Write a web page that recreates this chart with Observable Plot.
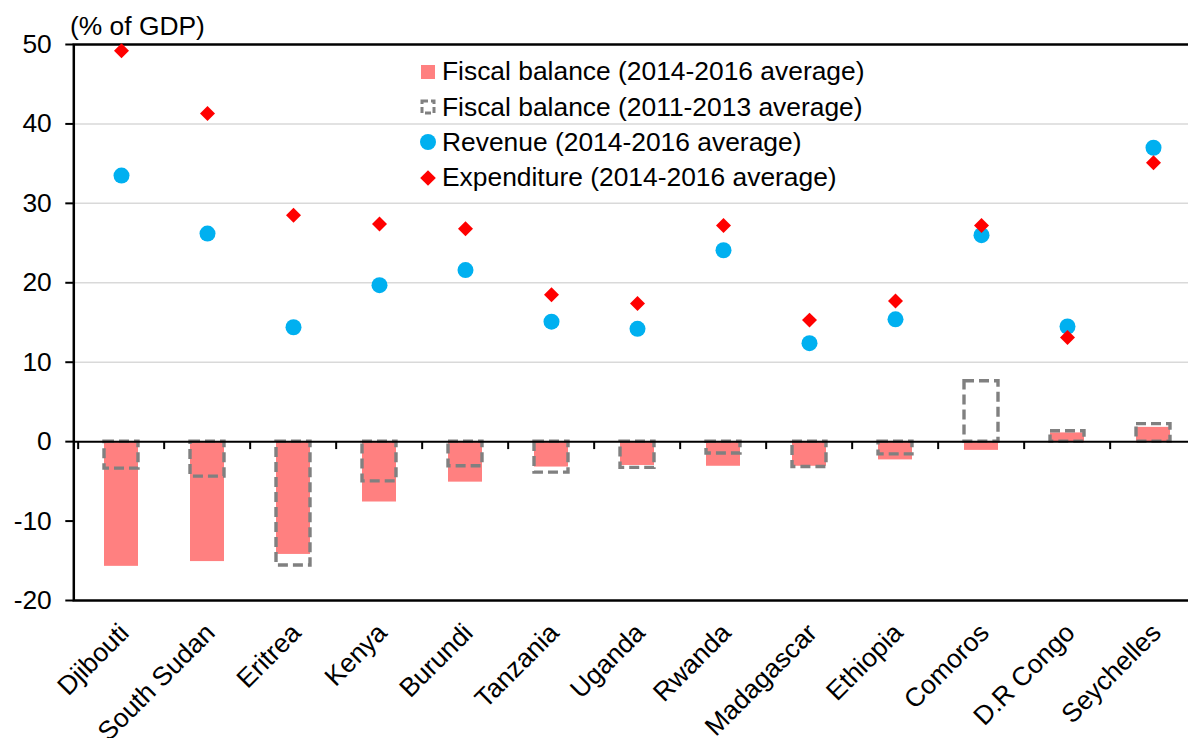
<!DOCTYPE html>
<html><head><meta charset="utf-8">
<script src="https://cdn.jsdelivr.net/npm/d3@7"></script>
<script src="https://cdn.jsdelivr.net/npm/@observablehq/plot@0.6"></script>
<style>
html,body{margin:0;padding:0;background:#fff;overflow:hidden;width:1188px;height:738px;}
#wrap{position:relative;width:1188px;height:738px;overflow:hidden;}
#wrap svg.plot, #wrap svg{max-width:none !important;}
.legend{position:absolute;left:418px;top:54px;font-family:"Liberation Sans",Arial,sans-serif;font-size:26.4px;color:#000;}
.legend .row{height:35.4px;display:flex;align-items:center;white-space:nowrap;}
.legend .row svg{width:20px;height:20px;margin-right:4px;flex:none;}
</style></head>
<body><div id="wrap"></div>
<script>
// ---- data ----
const countries = ["Djibouti","South Sudan","Eritrea","Kenya","Burundi","Tanzania","Uganda","Rwanda","Madagascar","Ethiopia","Comoros","D.R Congo","Seychelles"];
const fiscal1416 = [-15.7,-15.1,-14.2,-7.6,-5.1,-3.2,-3.0,-3.1,-3.1,-2.3,-1.1,1.1,1.8];
const fiscal1113 = [-3.4,-4.4,-15.6,-5.0,-3.1,-3.9,-3.3,-1.5,-3.2,-1.6,7.6,1.3,2.2];
const revenue = [33.5,26.2,14.4,19.7,21.6,15.1,14.2,24.1,12.4,15.4,26.0,14.5,37.0];
const expenditure = [49.2,41.3,28.5,27.4,26.8,18.5,17.4,27.2,15.3,17.7,27.2,13.1,35.1];
const yTicks = [-20,-10,0,10,20,30,40,50];
const gridTicks = [10,20,30,40];
const legendLabels = ["Fiscal balance (2014-2016 average)","Fiscal balance (2011-2013 average)","Revenue (2014-2016 average)","Expenditure (2014-2016 average)"];
const yTitle = "(% of GDP)";

const rows = countries.map((c,i)=>({country:c, fb:fiscal1416[i], fbOld:fiscal1113[i], rev:revenue[i], exp:expenditure[i]}));

const W = 1200;           // plot area runs slightly past the right edge, as in the original
const marginLeft = 73.3;
const bw = (W - marginLeft) / countries.length;
const inset = bw * 0.3;
const font = "'Liberation Sans', Arial, sans-serif";
const fs = 26.4;

const chart = Plot.plot({
  width: W, height: 738,
  marginLeft, marginRight: 0, marginTop: 44, marginBottom: 138,
  style: {fontFamily: font, fontSize: fs + "px", color: "#000", background: "transparent"},
  x: {domain: countries, padding: 0, axis: null},
  y: {domain: [-20, 50], axis: null},
  marks: [
    Plot.ruleY(gridTicks, {stroke: "#d9d9d9", strokeWidth: 1.5}),
    Plot.barY(rows, {x: "country", y: "fb", fill: "#ff8080", insetLeft: inset, insetRight: inset}),
    Plot.barY(rows, {x: "country", y: "fbOld", fill: "none", stroke: "#808080", strokeWidth: 3.4, strokeDasharray: "10,5", insetLeft: inset, insetRight: inset}),
    Plot.ruleY([0], {stroke: "#000", strokeWidth: 2}),
    Plot.ruleX(countries, {x: d => d, y1: 0, y2: -1, dx: -bw / 2, stroke: "#000", strokeWidth: 2}),
    Plot.frame({stroke: "#000", strokeWidth: 2.5}),
    Plot.axisY({ticks: yTicks, tickSize: 8, tickPadding: 14, fontSize: fs, tickFormat: d => String(d), strokeWidth: 2, label: null}),
    Plot.axisX({tickRotate: -45, tickSize: 0, tickPadding: 26, fontSize: fs, textAnchor: "end", label: null, dx: 3, dy: 2}),
    Plot.dot(rows, {x: "country", y: "rev", r: 8, fill: "#00b0f0"}),
    Plot.dot(rows, {x: "country", y: "exp", symbol: "diamond2", r: 6.75, fill: "#ff0000"})
  ]
});

d3.select(chart).append("text")
  .attr("x", 70).attr("y", 35)
  .attr("text-anchor", "start")
  .attr("font-family", font).attr("font-size", fs).attr("fill", "#000")
  .text(yTitle);

const wrap = document.getElementById("wrap");
wrap.appendChild(chart);

// legend
const leg = document.createElement("div");
leg.className = "legend";
const swatches = [
  '<svg viewBox="0 0 20 20"><rect x="3" y="3" width="14" height="14" fill="#ff8080"/></svg>',
  '<svg viewBox="0 0 20 20"><rect x="4" y="4" width="12" height="12" fill="none" stroke="#808080" stroke-width="3" stroke-dasharray="6,3"/></svg>',
  '<svg viewBox="0 0 20 20"><circle cx="10" cy="10" r="8" fill="#00b0f0"/></svg>',
  '<svg viewBox="0 0 20 20"><path d="M10 2.2L17.8 10L10 17.8L2.2 10Z" fill="#ff0000"/></svg>'
];
legendLabels.forEach((lab, i) => {
  const r = document.createElement("div");
  r.className = "row";
  r.innerHTML = swatches[i] + "<span></span>";
  r.querySelector("span").textContent = lab;
  leg.appendChild(r);
});
wrap.appendChild(leg);
</script>
</body></html>
